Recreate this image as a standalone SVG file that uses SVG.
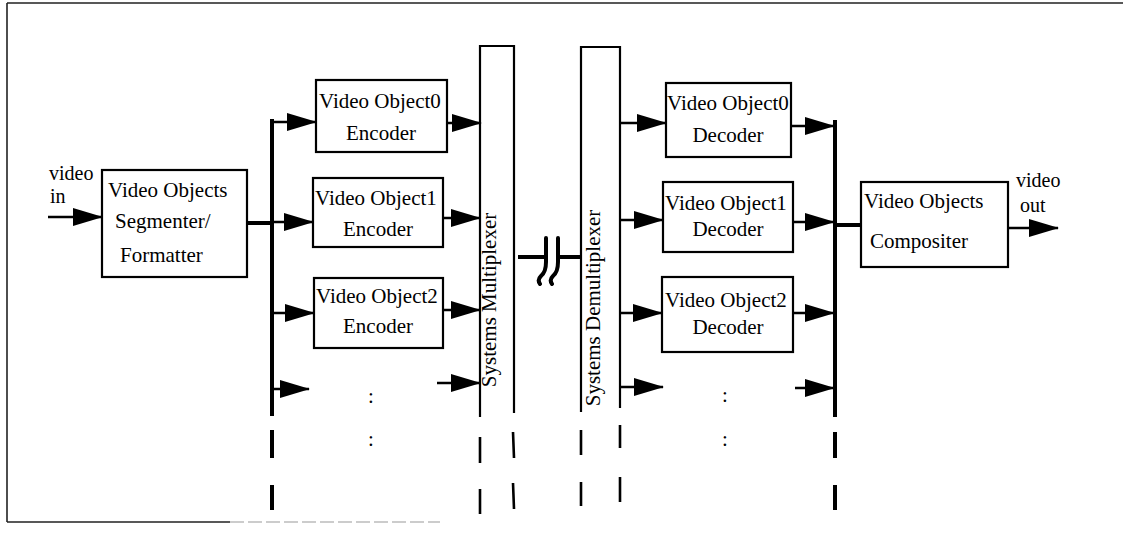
<svg xmlns="http://www.w3.org/2000/svg" width="1123" height="540" viewBox="0 0 1123 540">
<defs>
<marker id="ah" markerUnits="userSpaceOnUse" markerWidth="30" markerHeight="20" viewBox="0 0 30 20" refX="29" refY="10" orient="auto">
<path d="M0,1 L30,10 L0,19 Z" fill="#000"/>
</marker>
<style>
.box{fill:#fff;stroke:#000;stroke-width:2.2}
.t{font-family:"Liberation Serif","Times New Roman",serif;font-size:21px;fill:#000}
.lbl{font-size:20px}
.tm{text-anchor:middle}
.ar{stroke:#000;stroke-width:2.5;fill:none;marker-end:url(#ah)}
.bus{stroke:#000;stroke-width:4;fill:none}
.ln{stroke:#000;stroke-width:2.2;fill:none}
.dash{stroke:#000;stroke-width:2.6;fill:none}
</style>
</defs>
<rect width="1123" height="540" fill="#fff"/>
<g id="frame">
<path d="M7,3 L1123,3 M7,3 L7,522 M7,522 L230,522" stroke="#222" stroke-width="1.6" fill="none"/>
<path d="M230,522 L440,522" stroke="#999" stroke-width="1.2" stroke-dasharray="14,4" fill="none"/>
</g>
<g id="connectors">
<path class="ar" d="M48,217 L102,217"/>
<path class="bus" d="M247,223 L272,223"/>
<path class="bus" d="M272,119 L272,416 M272,430 L272,458 M272,485 L272,510"/>
<path class="ar" d="M272,122 L316,122"/>
<path class="ar" d="M272,222 L313,222"/>
<path class="ar" d="M272,313 L314,313"/>
<path class="ar" d="M272,389 L309,389"/>
<path class="ar" d="M442,123 L481,123"/>
<path class="ar" d="M441,218 L480,218"/>
<path class="ar" d="M441,310 L480,310"/>
<path class="ar" d="M437,383 L480,383"/>
<path class="dash" d="M480,437 L480,463 M480,489 L480,514 M513,432 L514,458 M513,483 L514,509"/>
<path class="bus" d="M518,257 L546,257 M558,257 L581,257"/>
<path d="M546,238 L546,262 Q546,272 541,276 Q537,280 540,284 M558,238 L558,262 Q558,272 553,276 Q549,280 552,284" stroke="#000" stroke-width="4" fill="none" stroke-linecap="round"/>
<path class="dash" d="M581,430 L581,455 M581,482 L581,506 M620,425 L620,448 M620,477 L620,502"/>
<path class="ar" d="M620,123 L666,123"/>
<path class="ar" d="M620,220 L663,220"/>
<path class="ar" d="M620,313 L662,313"/>
<path class="ar" d="M620,387 L663,387"/>
<path class="ar" d="M790,126 L834,126"/>
<path class="ar" d="M793,222 L834,222"/>
<path class="ar" d="M793,313 L834,313"/>
<path class="ar" d="M795,388 L834,388"/>
<path class="bus" d="M835,120 L835,417 M835,432 L835,458 M835,485 L835,510"/>
<path class="bus" d="M835,225 L861,225"/>
<path class="ar" d="M1008,228 L1058,228"/>
</g>
<g id="input-label">
<text class="t lbl" x="49" y="180">video</text>
<text class="t lbl" x="50" y="203">in</text>
</g>
<g id="segmenter">
<rect class="box" x="102" y="170" width="145" height="107"/>
<text class="t" x="108" y="197">Video Objects</text>
<text class="t" x="115" y="228">Segmenter/</text>
<text class="t" x="120" y="262">Formatter</text>
</g>
<g id="encoder0">
<rect class="box" x="316" y="80" width="131" height="72"/>
<text class="t" x="319" y="108">Video Object0</text>
<text class="t tm" x="381" y="140">Encoder</text>
</g>
<g id="encoder1">
<rect class="box" x="313" y="178" width="130" height="69"/>
<text class="t" x="315" y="205">Video Object1</text>
<text class="t tm" x="378" y="236">Encoder</text>
</g>
<g id="encoder2">
<rect class="box" x="314" y="278" width="129" height="70"/>
<text class="t" x="316" y="303">Video Object2</text>
<text class="t tm" x="378" y="333">Encoder</text>
</g>
<g id="enc-dots">
<text class="t tm" x="371" y="403">:</text>
<text class="t tm" x="371" y="446">:</text>
</g>
<g id="multiplexer">
<path class="ln" d="M480,417 L480,46 L514,46 L514,413"/>
<text class="t tm" transform="translate(496,300) rotate(-90)">Systems Multiplexer</text>
</g>
<g id="demultiplexer">
<path class="ln" d="M581,412 L581,47 L620,47 L620,408"/>
<text class="t tm" transform="translate(600,308) rotate(-90)">Systems Demultiplexer</text>
</g>
<g id="decoder0">
<rect class="box" x="666" y="83" width="125" height="74"/>
<text class="t" x="667" y="110">Video Object0</text>
<text class="t tm" x="728" y="142">Decoder</text>
</g>
<g id="decoder1">
<rect class="box" x="663" y="182" width="130" height="70"/>
<text class="t" x="665" y="210">Video Object1</text>
<text class="t tm" x="728" y="236">Decoder</text>
</g>
<g id="decoder2">
<rect class="box" x="662" y="277" width="131" height="75"/>
<text class="t" x="665" y="307">Video Object2</text>
<text class="t tm" x="728" y="334">Decoder</text>
</g>
<g id="dec-dots">
<text class="t tm" x="725" y="402">:</text>
<text class="t tm" x="725" y="446">:</text>
</g>
<g id="compositer">
<rect class="box" x="861" y="182" width="147" height="85"/>
<text class="t" x="864" y="208">Video Objects</text>
<text class="t" x="870" y="248">Compositer</text>
</g>
<g id="output-label">
<text class="t lbl" x="1016" y="187">video</text>
<text class="t lbl" x="1020" y="212">out</text>
</g>
</svg>
